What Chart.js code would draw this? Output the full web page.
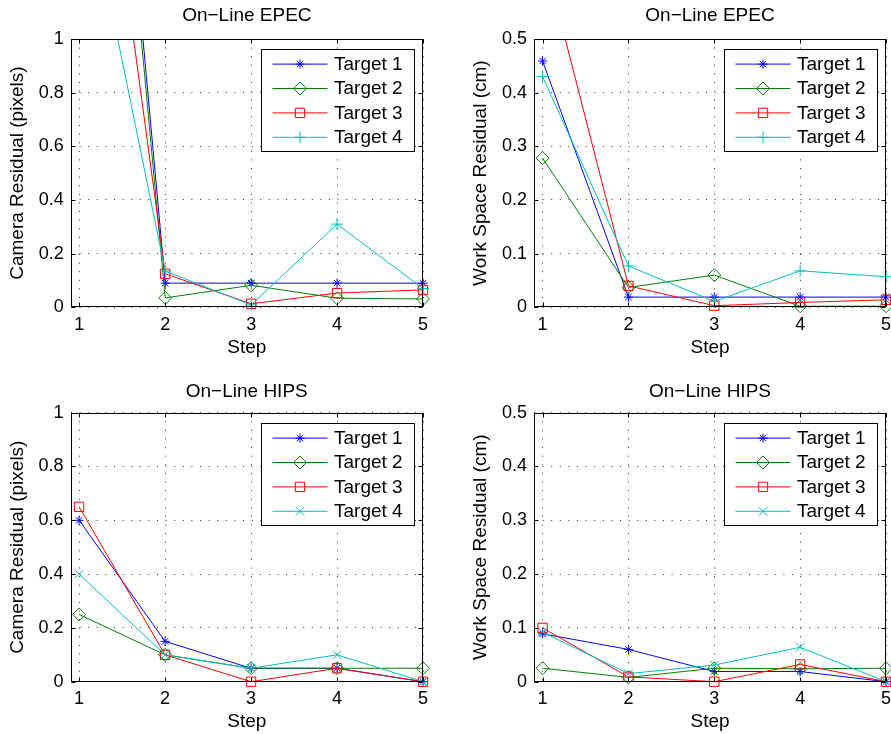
<!DOCTYPE html>
<html><head><meta charset="utf-8">
<script src="https://cdn.jsdelivr.net/npm/chart.js@4/dist/chart.umd.min.js"></script>
<style>
html,body{margin:0;padding:0;background:#fff;overflow:hidden;width:891px;height:734px;position:relative}
canvas{position:absolute;display:block}
</style></head><body>
<canvas id="c1"></canvas><canvas id="c2"></canvas><canvas id="c3"></canvas><canvas id="c4"></canvas>
<script>
// ---------- data ----------
const steps = [1, 2, 3, 4, 5];
const targetNames = ['Target 1', 'Target 2', 'Target 3', 'Target 4'];
const camTicks = [0, 0.2, 0.4, 0.6, 0.8, 1];
const wsTicks = [0, 0.1, 0.2, 0.3, 0.4, 0.5];

// On-Line EPEC, camera residual (pixels)
const epecCamT1 = [3.6, 0.09, 0.09, 0.09, 0.09];
const epecCamT2 = [3.5, 0.035, 0.082, 0.034, 0.031];
const epecCamT3 = [2.5, 0.125, 0.013, 0.053, 0.065];
const epecCamT4 = [1.7, 0.135, 0.009, 0.31, 0.07];
// On-Line EPEC, work space residual (cm)
const epecWsT1 = [0.459, 0.019, 0.019, 0.019, 0.019];
const epecWsT2 = [0.278, 0.037, 0.06, 0.002, 0.002];
const epecWsT3 = [0.665, 0.04, 0.003, 0.009, 0.014];
const epecWsT4 = [0.43, 0.077, 0.011, 0.068, 0.057];
// On-Line HIPS, camera residual (pixels)
const hipsCamT1 = [0.6, 0.15, 0.05, 0.05, 0];
const hipsCamT2 = [0.25, 0.1, 0.05, 0.05, 0.05];
const hipsCamT3 = [0.65, 0.1, 0, 0.05, 0];
const hipsCamT4 = [0.4, 0.1, 0.05, 0.1, 0];
// On-Line HIPS, work space residual (cm)
const hipsWsT1 = [0.089, 0.06, 0.019, 0.019, 0];
const hipsWsT2 = [0.025, 0.008, 0.025, 0.024, 0.025];
const hipsWsT3 = [0.1, 0.009, 0, 0.032, 0];
const hipsWsT4 = [0.092, 0.015, 0.031, 0.064, 0];

// ---------- styles ----------
const FONT = "'Liberation Sans', Arial, Helvetica, sans-serif";
Chart.defaults.font.family = FONT;
const colors = ['#0000ff', '#008000', '#ff0000', '#00bfbf'];
const markerEpec = ['star', 'rectRot', 'rect', 'cross'];
const markerHips = ['star', 'rectRot', 'rect', 'crossRot'];
const markerRadius = {star: 4.6, rectRot: 6.5, rect: 6.6, cross: 6, crossRot: 6};

function fallbackPoint(ctx, style, r, x, y) {
  ctx.beginPath();
  if (style === 'rect') { const s = r * Math.SQRT1_2; ctx.rect(x - s, y - s, 2 * s, 2 * s); }
  else if (style === 'rectRot') { ctx.moveTo(x, y - r); ctx.lineTo(x + r, y); ctx.lineTo(x, y + r); ctx.lineTo(x - r, y); ctx.closePath(); }
  else {
    if (style === 'cross' || style === 'star') { ctx.moveTo(x - r, y); ctx.lineTo(x + r, y); ctx.moveTo(x, y - r); ctx.lineTo(x, y + r); }
    if (style === 'crossRot' || style === 'star') { const d = r * Math.SQRT1_2; ctx.moveTo(x - d, y - d); ctx.lineTo(x + d, y + d); ctx.moveTo(x - d, y + d); ctx.lineTo(x + d, y - d); }
  }
  ctx.stroke();
}

const framePlugin = {
  id: 'frameLegend',
  afterDatasetsDraw(chart) {
    const ctx = chart.ctx, a = chart.chartArea;
    const xs = chart.scales.x, ys = chart.scales.y;
    ctx.save();
    ctx.strokeStyle = '#000'; ctx.lineWidth = 1;
    const L = Math.round(a.left) + 0.5, R = Math.round(a.right) - 0.5, T = Math.round(a.top) + 0.5, B = Math.round(a.bottom) - 0.5;
    ctx.beginPath(); ctx.rect(L, T, R - L, B - T); ctx.stroke();
    const tl = 4;
    ctx.beginPath();
    xs.ticks.forEach(t => { const px = Math.round(xs.getPixelForValue(t.value)) + 0.5;
      ctx.moveTo(px, B); ctx.lineTo(px, B - tl); ctx.moveTo(px, T); ctx.lineTo(px, T + tl); });
    ys.ticks.forEach(t => { const py = Math.round(ys.getPixelForValue(t.value)) + 0.5;
      ctx.moveTo(L, py); ctx.lineTo(L + tl, py); ctx.moveTo(R, py); ctx.lineTo(R - tl, py); });
    ctx.stroke();

    // legend box (top-right inside axes)
    const bw = 153, bh = 102;
    const bx = Math.round(a.right - 9.5 - bw) + 0.5, by = Math.round(a.top + 10) + 0.5;
    ctx.fillStyle = '#fff'; ctx.fillRect(bx, by, bw, bh);
    ctx.strokeStyle = '#000'; ctx.lineWidth = 1; ctx.strokeRect(bx, by, bw, bh);
    chart.data.datasets.forEach((ds, i) => {
      const cy = by + 14.6 + i * 24.4;
      ctx.strokeStyle = ds.borderColor; ctx.lineWidth = 1;
      ctx.beginPath(); ctx.moveTo(bx + 11, cy); ctx.lineTo(bx + 66, cy); ctx.stroke();
      ctx.fillStyle = 'rgba(0,0,0,0)';
      const opts = {pointStyle: ds.pointStyle, radius: ds.pointRadius, borderWidth: 1, rotation: 0};
      if (Chart.helpers && Chart.helpers.drawPoint) Chart.helpers.drawPoint(ctx, opts, bx + 38.5, cy);
      else fallbackPoint(ctx, ds.pointStyle, ds.pointRadius, bx + 38.5, cy);
      ctx.fillStyle = '#000'; ctx.font = '19px ' + FONT; ctx.textAlign = 'left'; ctx.textBaseline = 'middle';
      ctx.fillText(ds.label, bx + 72.5, cy + 0.5);
    });
    ctx.restore();
  }
};

function fmt(v) { return String(Math.round(v * 10) / 10); }

function makePanel(id, cr, area, pos, title, yTitle, yTicks, series, markers) {
  const cv = document.getElementById(id);
  cv.width = cr.w; cv.height = cr.h;
  cv.style.left = cr.x + 'px'; cv.style.top = cr.y + 'px';
  cv.style.width = cr.w + 'px'; cv.style.height = cr.h + 'px';
  const rel = {l: area.l - cr.x, t: area.t - cr.y, r: area.r - cr.x, b: area.b - cr.y};
  const titleLH = 19 * 1.2;
  const tPadTop = (pos.titleY - cr.y) - titleLH / 2;
  const tPadBot = rel.t - tPadTop - titleLH;
  const yTitlePad = (pos.yTitleX - cr.x) - titleLH / 2;
  const xTitlePad = cr.h - (pos.xTitleY - cr.y) - titleLH / 2;
  const datasets = series.map((d, i) => ({
    label: targetNames[i],
    data: steps.map((s, k) => ({x: s, y: d[k]})),
    borderColor: colors[i],
    backgroundColor: colors[i],
    borderWidth: 1,
    pointStyle: markers[i],
    pointRadius: markerRadius[markers[i]],
    pointHoverRadius: markerRadius[markers[i]],
    pointBorderColor: colors[i],
    pointBackgroundColor: 'rgba(0,0,0,0)',
    pointBorderWidth: 1,
    tension: 0,
    order: 4 - i,
    clip: {left: 12, right: 12, top: 0, bottom: 12}
  }));
  new Chart(cv, {
    type: 'line',
    data: {datasets},
    plugins: [framePlugin],
    options: {
      responsive: false, animation: false, devicePixelRatio: 1,
      events: [],
      layout: {padding: {left: 0, top: 0, right: cr.w - rel.r, bottom: 0}},
      plugins: {
        legend: {display: false}, tooltip: {enabled: false},
        title: {display: true, fullSize: false, text: title, color: '#000',
          font: {size: 19, weight: 'normal', lineHeight: 1.2},
          padding: {top: tPadTop, bottom: tPadBot}}
      },
      scales: {
        x: {
          type: 'linear', min: 0.9, max: 5,
          afterBuildTicks: s => { s.ticks = steps.map(v => ({value: v})); },
          afterFit: s => { s.height = cr.h - rel.b; },
          ticks: {color: '#000', font: {size: 18}, padding: 7, maxRotation: 0, autoSkip: false, callback: v => String(v)},
          grid: {color: '#333', lineWidth: 1, drawTicks: false},
          border: {display: false, dash: [1, 7.6]},
          title: {display: true, text: 'Step', color: '#000', font: {size: 19, lineHeight: 1.2}, padding: {top: 0, bottom: xTitlePad}}
        },
        y: {
          type: 'linear', min: yTicks[0], max: yTicks[yTicks.length - 1],
          afterBuildTicks: s => { s.ticks = yTicks.map(v => ({value: v})); },
          afterFit: s => { s.width = rel.l; },
          ticks: {color: '#000', font: {size: 18}, padding: 7, autoSkip: false, callback: v => fmt(v)},
          grid: {color: '#333', lineWidth: 1, drawTicks: false},
          border: {display: false, dash: [1, 7.6]},
          title: {display: true, text: yTitle, color: '#000', font: {size: 19, lineHeight: 1.2}, padding: {top: yTitlePad, bottom: 0}}
        }
      }
    }
  });
}

makePanel('c1', {x: 0, y: 0, w: 445, h: 370}, {l: 70.7, t: 39, r: 423, b: 307.3},
  {titleY: 16, yTitleX: 18, xTitleY: 348}, 'On\u2212Line EPEC', 'Camera Residual (pixels)', camTicks,
  [epecCamT1, epecCamT2, epecCamT3, epecCamT4], markerEpec);
makePanel('c2', {x: 445, y: 0, w: 460, h: 370}, {l: 534, t: 39, r: 886, b: 307.3},
  {titleY: 16, yTitleX: 481, xTitleY: 348}, 'On\u2212Line EPEC', 'Work Space Residual (cm)', wsTicks,
  [epecWsT1, epecWsT2, epecWsT3, epecWsT4], markerEpec);
makePanel('c3', {x: 0, y: 370, w: 445, h: 364}, {l: 70.5, t: 412.7, r: 423, b: 681.7},
  {titleY: 391.7, yTitleX: 18, xTitleY: 721.7}, 'On\u2212Line HIPS', 'Camera Residual (pixels)', camTicks,
  [hipsCamT1, hipsCamT2, hipsCamT3, hipsCamT4], markerHips);
makePanel('c4', {x: 445, y: 370, w: 460, h: 364}, {l: 534, t: 412.7, r: 886, b: 681.7},
  {titleY: 391.7, yTitleX: 481, xTitleY: 721.7}, 'On\u2212Line HIPS', 'Work Space Residual (cm)', wsTicks,
  [hipsWsT1, hipsWsT2, hipsWsT3, hipsWsT4], markerHips);
</script>
</body></html>
